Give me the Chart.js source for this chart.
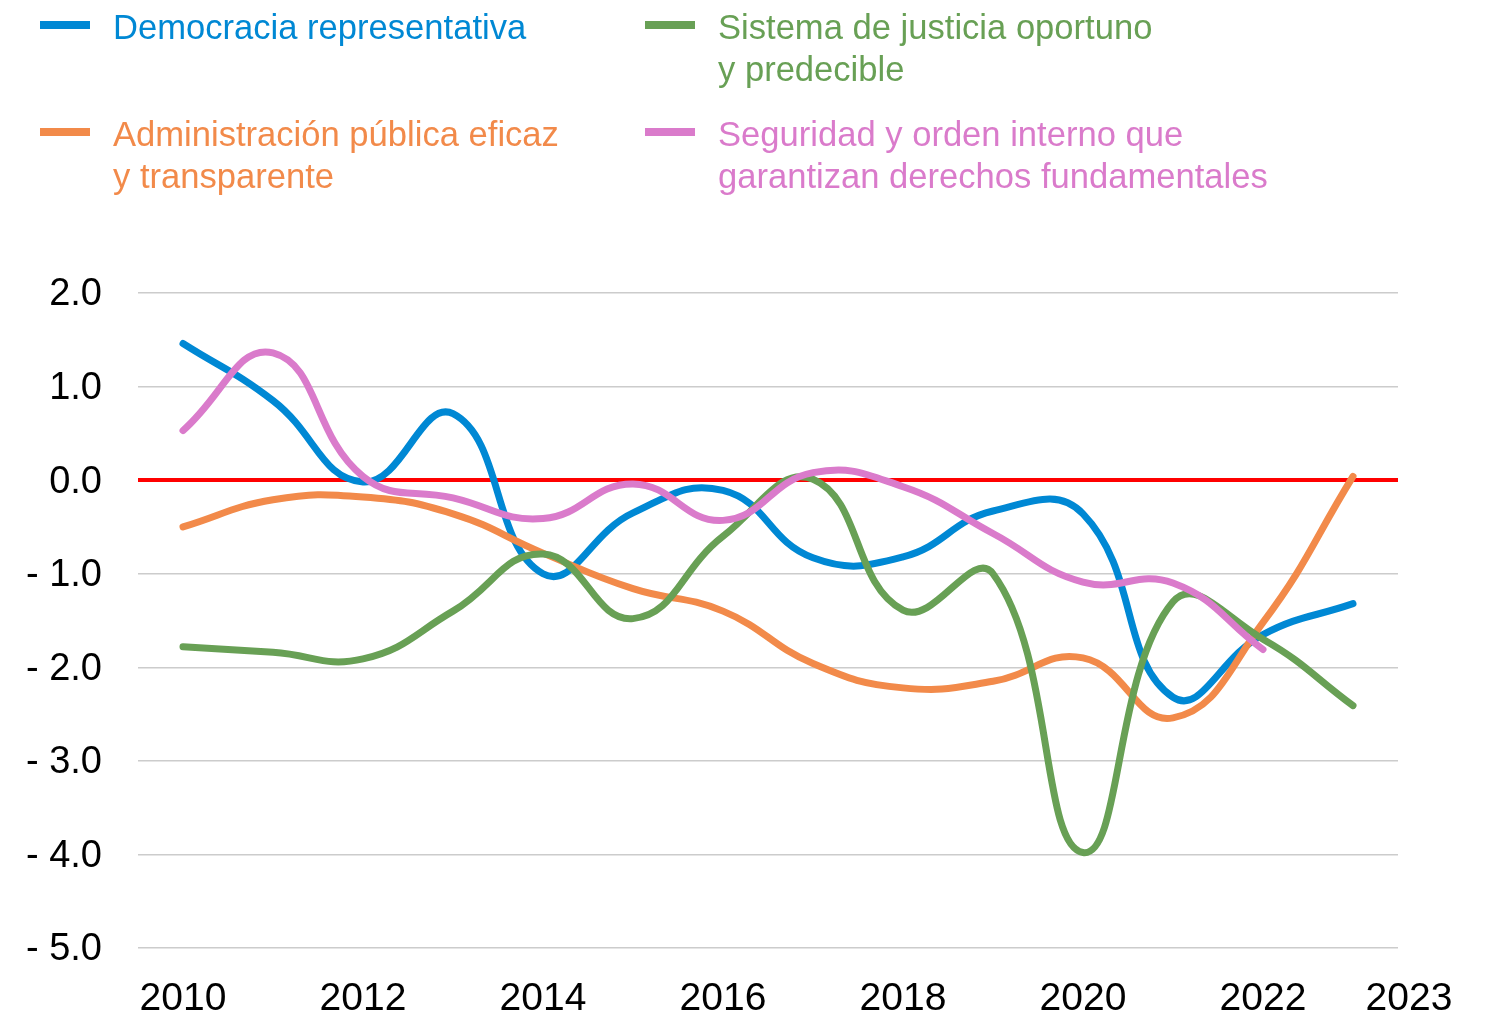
<!DOCTYPE html>
<html>
<head>
<meta charset="utf-8">
<script src="https://cdn.jsdelivr.net/npm/chart.js"></script>
<style>
  html, body { margin: 0; padding: 0; background: #fff; }
  body { width: 1490px; height: 1017px; position: relative; overflow: hidden; font-family: "Liberation Sans", Arial, sans-serif; }
  #wrap { position: absolute; left: 0; top: 0; width: 1490px; height: 1017px; }
  .leg { position: absolute; font-size: 34.6px; line-height: 42px; white-space: nowrap; }
  .leg i { position: absolute; left: -73px; top: 15px; width: 50px; height: 7.5px; }
</style>
</head>
<body>
<div id="wrap"><canvas id="chart"></canvas></div>
<div id="legend"></div>
<script>
// years on the x axis
const years = ['2010','2011','2012','2013','2014','2015','2016','2017','2018','2019','2020','2021','2022','2023'];

// series
const democracia = [1.46, 0.85, -0.02, 0.71, -1.00, -0.35, -0.11, -0.83, -0.82, -0.33, -0.36, -2.32, -1.65, -1.32];
const administracion = [-0.50, -0.21, -0.18, -0.36, -0.78, -1.16, -1.40, -1.96, -2.22, -2.15, -1.90, -2.54, -1.52, 0.04];
const justicia = [-1.78, -1.84, -1.91, -1.40, -0.79, -1.48, -0.60, 0.01, -1.39, -1.00, -3.98, -1.30, -1.70, -2.41];
const seguridad = [0.53, 1.36, 0.04, -0.19, -0.41, -0.04, -0.43, 0.08, -0.07, -0.57, -1.09, -1.10, -1.81, null];

const seriesNames = [
  ['Democracia representativa'],
  ['Administración pública eficaz', 'y transparente'],
  ['Sistema de justicia oportuno', 'y predecible'],
  ['Seguridad y orden interno que', 'garantizan derechos fundamentales']
];
const colors = ['#0088d4', '#f28a4a', '#68a055', '#da7bcb'];

// y ticks
const yMin = -5, yMax = 2, yStep = 1;

// ---- legend (html, two columns) ----
const legendPos = [[113, 6], [113, 113], [718, 6], [718, 113]];
let legendHtml = '';
seriesNames.forEach((lines, i) => {
  legendHtml += `<div class="leg" style="left:${legendPos[i][0]}px;top:${legendPos[i][1]}px;color:${colors[i]}">
    <i style="background:${colors[i]}"></i>${lines.join('<br>')}</div>`;
});
document.getElementById('legend').innerHTML = legendHtml;

// last year label sits right of the plot, like the original
const lastLabel = {
  id: 'lastLabel',
  afterDraw(chart) {
    const xs = chart.scales.x;
    const ctx = chart.ctx;
    const f = xs.options.ticks.font;
    ctx.save();
    ctx.font = `${f.size}px ${f.family}`;
    ctx.fillStyle = '#000';
    ctx.textAlign = 'center';
    ctx.textBaseline = 'middle';
    ctx.fillText(years[years.length - 1], chart.chartArea.right + 11, xs.top + xs.options.ticks.padding + f.size * 1.2 / 2);
    ctx.restore();
  }
};

const mk = (label, data, color, order) => ({
  label, data,
  borderColor: color,
  backgroundColor: color,
  borderWidth: 7,
  borderCapStyle: 'round',
  borderJoinStyle: 'round',
  pointRadius: 0,
  tension: 0.45,
  fill: false,
  spanGaps: false,
  order
});

new Chart(document.getElementById('chart'), {
  type: 'line',
  data: {
    labels: years,
    datasets: [
      mk(seriesNames[0].join(' '), democracia, colors[0], 3),
      mk(seriesNames[1].join(' '), administracion, colors[1], 2),
      mk(seriesNames[2].join(' '), justicia, colors[2], 1),
      mk(seriesNames[3].join(' '), seguridad, colors[3], 0)
    ]
  },
  options: {
    responsive: true,
    maintainAspectRatio: false,
    animation: false,
    layout: { padding: { top: 293, right: 92, bottom: 0, left: 0 } },
    plugins: { legend: { display: false }, tooltip: { enabled: false } },
    scales: {
      x: {
        offset: true,
        grid: { display: false, drawTicks: false },
        border: { display: false },
        ticks: {
          autoSkip: false,
          maxRotation: 0,
          padding: 28,
          color: '#000',
          font: { size: 39, family: '"Liberation Sans", Arial, sans-serif' },
          callback: (v, i) => (i % 2 === 0 && i < years.length - 1) ? years[i] : ''
        },
        afterFit: s => { s.height = 69; }
      },
      y: {
        min: yMin, max: yMax,
        grid: {
          drawTicks: false,
          color: c => c.tick && c.tick.value === 0 ? '#ff0000' : '#cccccc',
          lineWidth: c => c.tick && c.tick.value === 0 ? 4 : 1.5
        },
        border: { display: false },
        ticks: {
          stepSize: yStep,
          padding: 36,
          labelOffset: 2,
          color: '#000',
          font: { size: 38, family: '"Liberation Sans", Arial, sans-serif' },
          callback: v => v < 0 ? '- ' + Math.abs(v).toFixed(1) : v.toFixed(1)
        },
        afterFit: s => { s.width = 138; }
      }
    }
  },
  plugins: [lastLabel]
});
</script>
</body>
</html>
